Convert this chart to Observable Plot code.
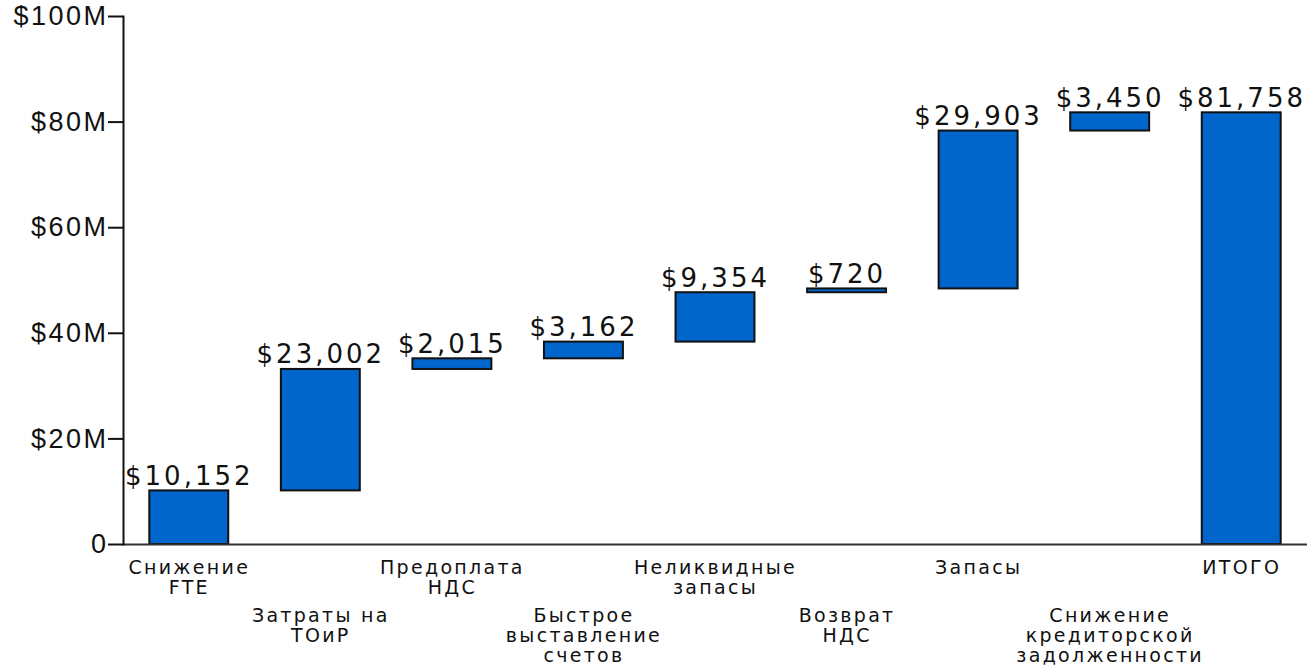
<!DOCTYPE html>
<html>
<head>
<meta charset="utf-8">
<script src="https://cdn.jsdelivr.net/npm/d3@7"></script>
<script src="https://cdn.jsdelivr.net/npm/@observablehq/plot@0.6"></script>
<style>
  html, body { margin: 0; padding: 0; background: #fff; }
</style>
</head>
<body>
<div id="chart"></div>
<script>
const categories = [
  "Снижение\nFTE",
  "Затраты на\nТОиР",
  "Предоплата\nНДС",
  "Быстрое\nвыставление\nсчетов",
  "Неликвидные\nзапасы",
  "Возврат\nНДС",
  "Запасы",
  "Снижение\nкредиторской\nзадолженности",
  "ИТОГО"
];
const values = [10152, 23002, 2015, 3162, 9354, 720, 29903, 3450, 81758]; // thousands of $
const isTotal = [false, false, false, false, false, false, false, false, true];
const valueLabels = ["$10,152", "$23,002", "$2,015", "$3,162", "$9,354", "$720", "$29,903", "$3,450", "$81,758"];
const yTicks = [0, 20, 40, 60, 80, 100];
const yTickLabels = ["0", "$20M", "$40M", "$60M", "$80M", "$100M"];

// waterfall table
let running = 0;
const rows = categories.map((cat, i) => {
  let y1, y2;
  if (isTotal[i]) { y1 = 0; y2 = values[i] / 1000; }
  else { y1 = running / 1000; running += values[i]; y2 = running / 1000; }
  return { cat, y1, y2, label: valueLabels[i], row: i % 2 };
});

const LABEL_FS = 26, CAT_FS = 19, TICK_FS = 27;

const chart = Plot.plot({
  width: 1307,
  height: 666,
  marginLeft: 123,
  marginRight: 0,
  marginTop: 16,
  marginBottom: 122,
  style: { background: "#fff", color: "#111" },
  x: { domain: categories, paddingInner: 0.4, paddingOuter: 0.2, round: false, axis: null },
  y: { domain: [0, 100], axis: null },
  marks: [
    Plot.barY(rows, { x: "cat", y1: "y1", y2: "y2", fill: "#0066CC", stroke: "#111", strokeWidth: 2 }),
    Plot.ruleY([0], { stroke: "#333", strokeWidth: 2 }),
    Plot.axisY({
      ticks: yTicks,
      tickFormat: d => yTickLabels[yTicks.indexOf(d)],
      tickSize: 15,
      tickPadding: 0,
      fontSize: TICK_FS,
      fontFamily: "Liberation Sans, Arial, sans-serif",
      stroke: "#111",
      strokeWidth: 2,
      fill: "#111"
    }),
    Plot.frame({ anchor: "left", stroke: "#111", strokeWidth: 2 }),
    Plot.text(rows, {
      x: "cat", y: "y2", text: "label",
      lineAnchor: "bottom", dy: -6,
      fontSize: LABEL_FS, fontFamily: "DejaVu Sans, Verdana, sans-serif",
      fill: "#111"
    }),
    Plot.text(rows.filter(d => d.row === 0), {
      x: "cat", text: "cat", frameAnchor: "bottom",
      lineAnchor: "top", dy: 15.5, lineHeight: 1.05,
      fontSize: CAT_FS, fontFamily: "DejaVu Sans, Verdana, sans-serif",
      fill: "#111"
    }),
    Plot.text(rows.filter(d => d.row === 1), {
      x: "cat", text: "cat", frameAnchor: "bottom",
      lineAnchor: "top", dy: 63.5, lineHeight: 1.05,
      fontSize: CAT_FS, fontFamily: "DejaVu Sans, Verdana, sans-serif",
      fill: "#111"
    })
  ]
});

// letter-spacing per text group (Plot has no letterSpacing option)
d3.select(chart).selectAll("g").each(function () {
  const fs = parseFloat(this.getAttribute("font-size"));
  if (fs === LABEL_FS) this.style.letterSpacing = "3px";
  else if (fs === CAT_FS) this.style.letterSpacing = "2.3px";
  else if (fs === TICK_FS) this.style.letterSpacing = "2.5px";
});
document.getElementById("chart").appendChild(chart);
</script>
</body>
</html>
